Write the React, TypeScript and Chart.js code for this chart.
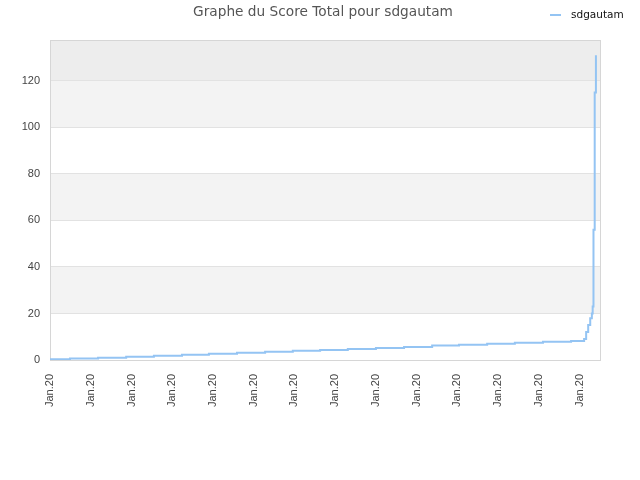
import React, { useEffect, useRef } from "react";
import { Chart, registerables } from "chart.js";

Chart.register(...registerables);

const TITLE = "Graphe du Score Total pour sdgautam";
const SERIES_NAME = "sdgautam";
const X_TICK_LABEL = "Jan.20";

// x positions of each score change (time units along the axis)
const xPositions = [
  0, 4.9, 11.8, 18.7, 25.5, 32.4, 39.0, 45.9, 52.8, 59.6,
  66.3, 73.1, 80.0, 86.9, 93.8, 100.4, 107.3, 114.1, 121.0, 127.9,
  131.1, 131.6, 132.1, 132.6, 133.0, 133.2, 133.4, 133.7, 134.0,
];
// total score at each of those moments
const scores = [
  0.3, 0.6, 1.0, 1.4, 1.85, 2.3, 2.7, 3.1, 3.6, 4.0,
  4.3, 4.7, 5.2, 5.6, 6.2, 6.6, 7.0, 7.4, 7.9, 8.2,
  9, 12, 15, 18, 20, 23, 56, 115, 131,
];

const X_MAX = 135;
const Y_MAX = 137.6;
const Y_STEP = 20;
const X_STEP = 10;

const LINE_COLOR = "#94c4f3";

const decorPlugin = {
  id: "decor",
  beforeDraw(chart: any) {
    const { ctx, chartArea: a, scales } = chart;
    const y = scales.y;
    const ticks = y.ticks.map((t: any) => t.value);
    ctx.save();
    for (let i = 0; i < ticks.length; i++) {
      const from = ticks[i];
      const last = i === ticks.length - 1;
      const to = last ? y.max : ticks[i + 1];
      let color: string | null = null;
      if (last) color = "#ededed";
      else if (i % 2 === 1) color = "#f3f3f3";
      if (!color) continue;
      const top = y.getPixelForValue(to);
      const bottom = y.getPixelForValue(from);
      ctx.fillStyle = color;
      ctx.fillRect(a.left, top, a.right - a.left, bottom - top);
    }
    ctx.restore();
  },
  beforeDatasetsDraw(chart: any) {
    const { ctx, chartArea: a } = chart;
    ctx.save();
    ctx.strokeStyle = "#d6d6d6";
    ctx.lineWidth = 1;
    ctx.strokeRect(Math.round(a.left) + 0.5, Math.round(a.top) + 0.5, a.right - a.left, a.bottom - a.top);
    ctx.restore();
  },
  afterDraw(chart: any) {
    const { ctx } = chart;
    ctx.save();
    ctx.font = '13.7px "DejaVu Sans"';
    ctx.fillStyle = "#555555";
    ctx.textAlign = "center";
    ctx.textBaseline = "middle";
    ctx.fillText(TITLE, 323, 12.5);
    // legend
    ctx.fillStyle = LINE_COLOR;
    ctx.fillRect(550, 14, 11, 2);
    ctx.font = '10.5px "DejaVu Sans"';
    ctx.fillStyle = "#111111";
    ctx.textAlign = "left";
    ctx.fillText(SERIES_NAME, 571, 15);
    ctx.restore();
  },
};

export default function App() {
  const ref = useRef<HTMLCanvasElement | null>(null);
  useEffect(() => {
    if (!ref.current) return;
    const data = xPositions.map((x, i) => ({ x, y: scores[i] }));
    const chart = new Chart(ref.current, {
      type: "line",
      data: {
        datasets: [
          {
            label: SERIES_NAME,
            data,
            borderColor: LINE_COLOR,
            backgroundColor: LINE_COLOR,
            borderWidth: 2,
            pointRadius: 0,
            stepped: true,
            fill: false,
          },
        ],
      },
      options: {
        animation: false,
        responsive: true,
        maintainAspectRatio: false,
        layout: { padding: { top: 40, right: 40, left: 0, bottom: 0 } },
        plugins: {
          legend: { display: false },
          title: { display: false },
          tooltip: { enabled: false },
        },
        scales: {
          x: {
            type: "linear",
            min: 0,
            max: X_MAX,
            grid: { display: false, drawTicks: false },
            border: { display: false },
            afterFit: (s: any) => {
              s.height = 120;
            },
            ticks: {
              stepSize: X_STEP,
              includeBounds: false,
              autoSkip: false,
              maxRotation: 90,
              minRotation: 90,
              padding: 14,
              color: "#444444",
              font: { family: '"Liberation Sans", Arial', size: 11 },
              callback: () => X_TICK_LABEL,
            },
          },
          y: {
            type: "linear",
            min: 0,
            max: Y_MAX,
            grid: { color: "#e2e2e2", drawTicks: false },
            border: { display: false },
            afterFit: (s: any) => {
              s.width = 50;
            },
            ticks: {
              stepSize: Y_STEP,
              includeBounds: false,
              padding: 10,
              color: "#444444",
              font: { family: '"Liberation Sans", Arial', size: 11 },
            },
          },
        },
      },
      plugins: [decorPlugin],
    });
    return () => chart.destroy();
  }, []);
  return (
    <div style={{ position: "fixed", left: 0, top: 0, width: 640, height: 480, background: "#fff" }}>
      <canvas ref={ref} />
    </div>
  );
}
